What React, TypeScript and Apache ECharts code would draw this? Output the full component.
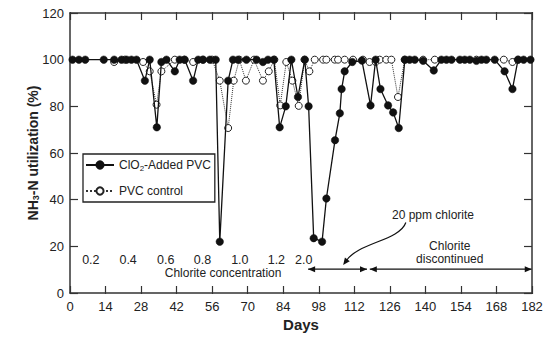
import React, { useEffect, useRef } from 'react';
import * as echarts from 'echarts';

// ClO2-Added PVC (filled circles, solid line)
const addedDays = [1, 3.5, 6, 13.3, 17.4, 20.3, 22.3, 24.2, 26.2, 29.5, 31.4, 34.2, 36, 38, 41.3, 43.2, 45.2, 48.5, 50.5, 52.4, 55.1, 57.4, 59, 62.3, 64.2, 66.2, 69.5, 73.5, 76, 78, 80.3, 82.6, 85, 87.2, 89.8, 92.5, 94, 96, 99.3, 101, 104.4, 106.3, 107, 108.2, 111.2, 115, 118.4, 120.4, 122.3, 125.3, 127.3, 129.5, 131.9, 133.8, 135.8, 139.1, 143.3, 146.3, 148.3, 150.3, 153.6, 155.5, 157.5, 160.1, 162.1, 164, 167.3, 171.2, 174.3, 176.5, 178.7, 181.4];
const addedValues = [100, 100, 100, 100, 100, 100, 100, 100, 100, 91, 100, 71, 99, 100, 95, 100, 100, 91, 100, 100, 100, 100, 22, 91, 100, 100, 100, 100, 99, 100, 100, 71, 80, 100, 84, 100, 80, 23.5, 22, 40.5, 65.5, 77, 87.4, 95, 99, 99.6, 80.4, 100, 87.4, 80.4, 77.4, 70.7, 100, 100, 100, 99.5, 95.4, 100, 100, 100, 100, 100, 100, 99.5, 100, 100, 100, 95, 87.4, 100, 100, 100];

// PVC control (open circles, dotted line)
const controlDays = [17.4, 21.6, 28.8, 31.4, 34.1, 36, 41.3, 45, 48.5, 52.4, 56, 59, 62.3, 64.5, 66.7, 69.3, 72.5, 76, 78.3, 80.5, 82.8, 85.2, 87.6, 90.1, 92.4, 94.3, 96.4, 99.7, 101, 104.3, 105.6, 108.2, 111.5, 115.4, 118, 120.4, 122, 124.6, 126.6, 129.2, 131.9, 139.1, 143.7, 160.1, 170.9, 174.3, 176.5];
const controlValues = [99, 100, 99, 95, 80.7, 95, 100, 100, 99, 100, 100, 91, 70.7, 91, 100, 91, 100, 91, 95, 100, 80.4, 99, 91, 80.2, 100, 95, 100, 100, 100, 100, 100, 100, 100, 100, 99, 99, 100, 100, 100, 84, 100, 100, 100, 100, 100, 99, 100];

// Chlorite concentration annotations
const concLabels = ['0.2', '0.4', '0.6', '0.8', '1.0', '1.2', '2.0'];
const concDays = [8.2, 22.9, 37.7, 52.2, 66.9, 81.3, 92.1];
const concLevel = 14.1;

const SERIES_ADDED = 'ClO2-Added PVC';
const SERIES_CONTROL = 'PVC control';

const GRID = { left: 70, right: 19, top: 13, bottom: 43 };
const W = 551, H = 337;
const PLOT_W = W - GRID.left - GRID.right;
const PLOT_H = H - GRID.top - GRID.bottom;

export default function App() {
  const ref = useRef<HTMLDivElement>(null);
  useEffect(() => {
    const chart = echarts.init(ref.current!, null, { renderer: 'svg' });
    const font = '"Liberation Sans", Arial, Helvetica, sans-serif';
    const ink = '#222';
    const line = () => ({ show: true, onZero: false, lineStyle: { color: '#333', width: 1.5 } });
    const noTick = { show: false };
    const tick = () => ({ show: true, length: 8, lineStyle: { color: '#333', width: 1.2 } });
    const xBase = { type: 'value', min: 0, max: 182, interval: 14, splitLine: { show: false } };
    const yBase = { type: 'value', min: 0, max: 120, interval: 20, splitLine: { show: false } };
    // tick-only axes placed on the opposite side so that their outward ticks point into the plot
    const tickOnlyX = (position: string) => ({
      ...xBase, position, offset: -PLOT_H,
      axisLine: { show: false, onZero: false }, axisTick: tick(), axisLabel: { show: false },
    });
    const tickOnlyY = (position: string) => ({
      ...yBase, position, offset: -PLOT_W,
      axisLine: { show: false, onZero: false }, axisTick: tick(), axisLabel: { show: false },
    });
    chart.setOption({
      animation: false,
      backgroundColor: '#fff',
      grid: GRID,
      xAxis: [
        {
          ...xBase, position: 'bottom',
          axisLine: line(), axisTick: noTick,
          axisLabel: { color: ink, fontSize: 13, fontFamily: font, margin: 7 },
          name: 'Days', nameLocation: 'middle', nameGap: 24, nameMoveOverlap: false,
          nameTextStyle: { color: ink, fontSize: 15, fontWeight: 'bold', fontFamily: font },
        },
        { ...xBase, position: 'top', axisLine: line(), axisTick: noTick, axisLabel: { show: false } },
        tickOnlyX('top'),
        tickOnlyX('bottom'),
      ],
      yAxis: [
        {
          ...yBase, position: 'left',
          axisLine: line(), axisTick: noTick,
          axisLabel: { color: ink, fontSize: 13, fontFamily: font, margin: 6 },
          name: 'NH{sub|3}-N utilization (%)', nameLocation: 'middle', nameGap: 30, nameRotate: 90, nameMoveOverlap: false,
          nameTextStyle: {
            color: ink, fontSize: 14, fontWeight: 'bold', fontFamily: font,
            rich: { sub: { fontSize: 9, fontWeight: 'bold', fontFamily: font, color: ink, verticalAlign: 'bottom', padding: [6, 0, 0, 0] } },
          },
        },
        { ...yBase, position: 'right', axisLine: line(), axisTick: noTick, axisLabel: { show: false } },
        tickOnlyY('right'),
        tickOnlyY('left'),
      ],
      legend: {
        data: [SERIES_ADDED, SERIES_CONTROL],
        orient: 'vertical', left: 83, top: 154,
        backgroundColor: '#fff', borderColor: '#222', borderWidth: 1.3,
        padding: [5, 4, 5, 2], itemGap: 13, itemWidth: 28, itemHeight: 9,
        textStyle: {
          color: ink, fontSize: 12, fontFamily: font,
          rich: { sub: { fontSize: 8, fontFamily: font, color: ink, verticalAlign: 'bottom', padding: [6, 0, 0, 0] } },
        },
        formatter: (n: string) => (n === SERIES_ADDED ? 'ClO{sub|2}-Added PVC' : n),
      },
      series: [
        {
          name: SERIES_CONTROL, type: 'line', z: 2, xAxisIndex: 0, yAxisIndex: 0,
          data: controlDays.map((d, i) => [d, controlValues[i]]),
          symbol: 'circle', symbolSize: 7,
          itemStyle: { color: '#fff', borderColor: '#222', borderWidth: 1 },
          lineStyle: { color: '#333', width: 1, type: 'dotted' },
        },
        {
          name: SERIES_ADDED, type: 'line', z: 3, xAxisIndex: 0, yAxisIndex: 0,
          data: addedDays.map((d, i) => [d, addedValues[i]]),
          symbol: 'circle', symbolSize: 7.5,
          itemStyle: { color: '#111', borderColor: '#111', borderWidth: 0.5 },
          lineStyle: { color: '#111', width: 1.3 },
        },
      ],
    });

    const p = (d: number, v: number) => chart.convertToPixel({ xAxisIndex: 0, yAxisIndex: 0 }, [d, v]) as number[];
    const txt = (x: number, y: number, text: string, size = 12) => ({
      type: 'text', x, y,
      style: { text, fontSize: size, fontFamily: font, fill: ink, align: 'center', verticalAlign: 'middle' },
    });
    const head = (tip: number[], dx: number, dy: number, len = 7, half = 3) => {
      const bx = tip[0] - dx * len, by = tip[1] - dy * len;
      return {
        type: 'polygon',
        shape: { points: [tip, [bx - dy * half, by + dx * half], [bx + dy * half, by - dx * half]] },
        style: { fill: '#111' },
      };
    };
    const dblArrow = (d1: number, d2: number, v: number) => {
      const a = p(d1, v), b = p(d2, v);
      return [
        { type: 'line', shape: { x1: a[0], y1: a[1], x2: b[0], y2: b[1] }, style: { stroke: '#111', lineWidth: 1.3 } },
        head(a, -1, 0), head(b, 1, 0),
      ];
    };

    const graphics: any[] = [];
    concLabels.forEach((l, i) => {
      const q = p(concDays[i], concLevel);
      graphics.push(txt(q[0], q[1], l, 12.5));
    });
    const cc = p(60.3, 8.5);
    graphics.push(txt(cc[0], cc[1], 'Chlorite concentration'));
    const pp = p(143, 33.3);
    graphics.push(txt(pp[0], pp[1], '20 ppm chlorite'));
    const c1 = p(149.6, 20.1);
    graphics.push(txt(c1[0], c1[1], 'Chlorite'));
    const c2 = p(149.6, 14.7);
    graphics.push(txt(c2[0], c2[1], 'discontinued'));
    graphics.push(...dblArrow(93.8, 117, 10.2));
    graphics.push(...dblArrow(118.1, 181.9, 10.2));
    const s = p(132.3, 30.2), e = p(107.6, 12);
    graphics.push({
      type: 'bezierCurve',
      shape: { x1: s[0], y1: s[1], cpx1: s[0] - 6, cpy1: s[1] + 18, cpx2: e[0] + 14, cpy2: e[1] - 22, x2: e[0] + 3, y2: e[1] - 4 },
      style: { stroke: '#111', lineWidth: 1.2, fill: 'none' },
    });
    graphics.push(head(e, -0.6, 0.8, 7, 3));
    chart.setOption({ graphic: graphics });

    return () => chart.dispose();
  }, []);
  return <div ref={ref} style={{ position: 'absolute', left: 0, top: 0, width: W, height: H }} />;
}
